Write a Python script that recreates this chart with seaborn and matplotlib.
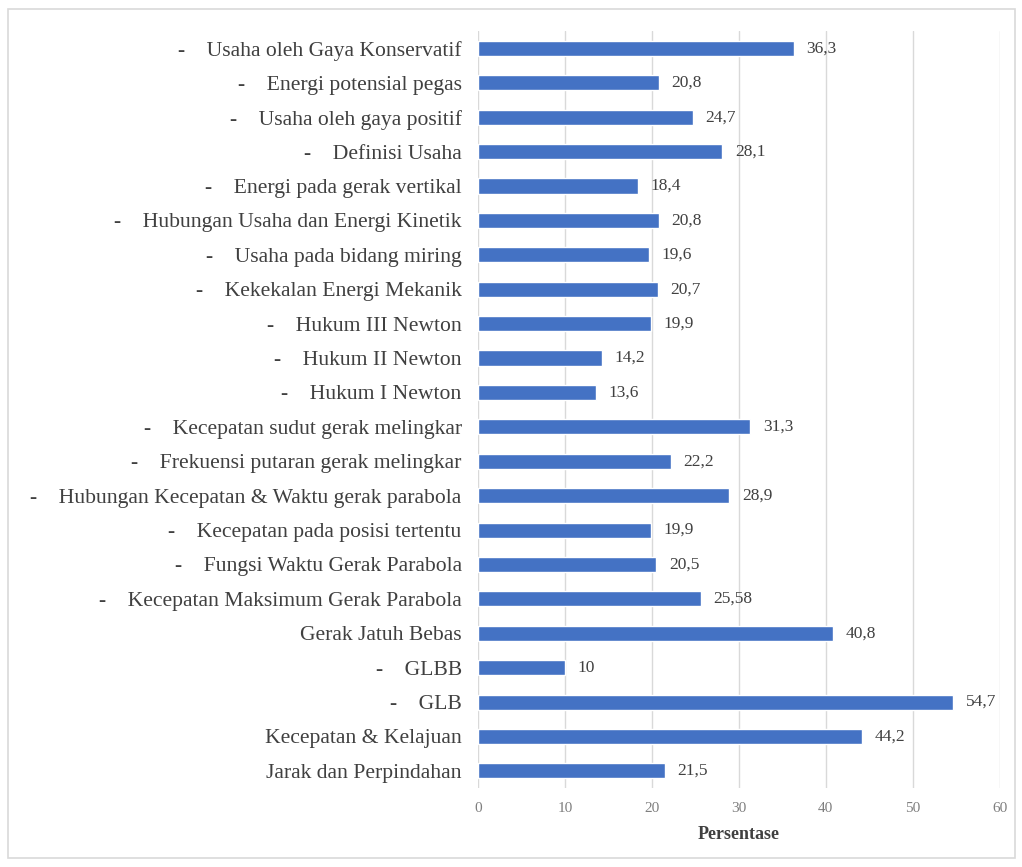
import pandas as pd
import matplotlib.pyplot as plt
import seaborn as sns
from matplotlib.patches import Rectangle

# Data, top to bottom as in the chart
topics = [
    "-    Usaha oleh Gaya Konservatif",
    "-    Energi potensial pegas",
    "-    Usaha oleh gaya positif",
    "-    Definisi Usaha",
    "-    Energi pada gerak vertikal",
    "-    Hubungan Usaha dan Energi Kinetik",
    "-    Usaha pada bidang miring",
    "-    Kekekalan Energi Mekanik",
    "-    Hukum III Newton",
    "-    Hukum II Newton",
    "-    Hukum I Newton",
    "-    Kecepatan sudut gerak melingkar",
    "-    Frekuensi putaran gerak melingkar",
    "-    Hubungan Kecepatan & Waktu gerak parabola",
    "-    Kecepatan pada posisi tertentu",
    "-    Fungsi Waktu Gerak Parabola",
    "-    Kecepatan Maksimum Gerak Parabola",
    "Gerak Jatuh Bebas",
    "-    GLBB",
    "-    GLB",
    "Kecepatan & Kelajuan",
    "Jarak dan Perpindahan",
]
persentase = [36.3, 20.8, 24.7, 28.1, 18.4, 20.8, 19.6, 20.7, 19.9, 14.2, 13.6,
              31.3, 22.2, 28.9, 19.9, 20.5, 25.58, 40.8, 10, 54.7, 44.2, 21.5]
value_text = ["36,3", "20,8", "24,7", "28,1", "18,4", "20,8", "19,6", "20,7", "19,9",
              "14,2", "13,6", "31,3", "22,2", "28,9", "19,9", "20,5", "25,58", "40,8",
              "10", "54,7", "44,2", "21,5"]

df = pd.DataFrame({"Topik": topics, "Persentase": persentase})

sns.set_style("white")
plt.rcParams['font.family'] = ['Liberation Serif', 'DejaVu Serif']

fig = plt.figure(figsize=(10.22, 8.67), dpi=100)
ax = fig.add_axes([0.468, 0.091, 0.510, 0.873])

sns.barplot(data=df, x="Persentase", y="Topik", orient="h", color="#4472C4",
            saturation=1, width=0.44, ax=ax)

ax.bar_label(ax.containers[0], labels=value_text, padding=9, fontsize=12.5, color="#404040")

ax.set_xlim(0, 60)
ax.set_xticks(range(0, 61, 10))
ax.grid(axis="x", color="#D9D9D9", linewidth=1)
ax.set_axisbelow(True)
for s in ax.spines.values():
    s.set_visible(False)

ax.tick_params(axis="y", length=0, pad=12, labelsize=15.6, labelcolor="#404040")
ax.tick_params(axis="x", length=0, pad=10, labelsize=11, labelcolor="#7F7F7F")
ax.set_ylabel("")
ax.set_xlabel("Persentase", fontsize=13, fontweight="bold", color="#404040", labelpad=8)

# light frame around the chart
fig.patches.append(Rectangle((0.008, 0.01), 0.985, 0.98, transform=fig.transFigure,
                             fill=False, edgecolor="#D9D9D9", linewidth=1.2))

fig.savefig("out.png", dpi=100, facecolor="white")
